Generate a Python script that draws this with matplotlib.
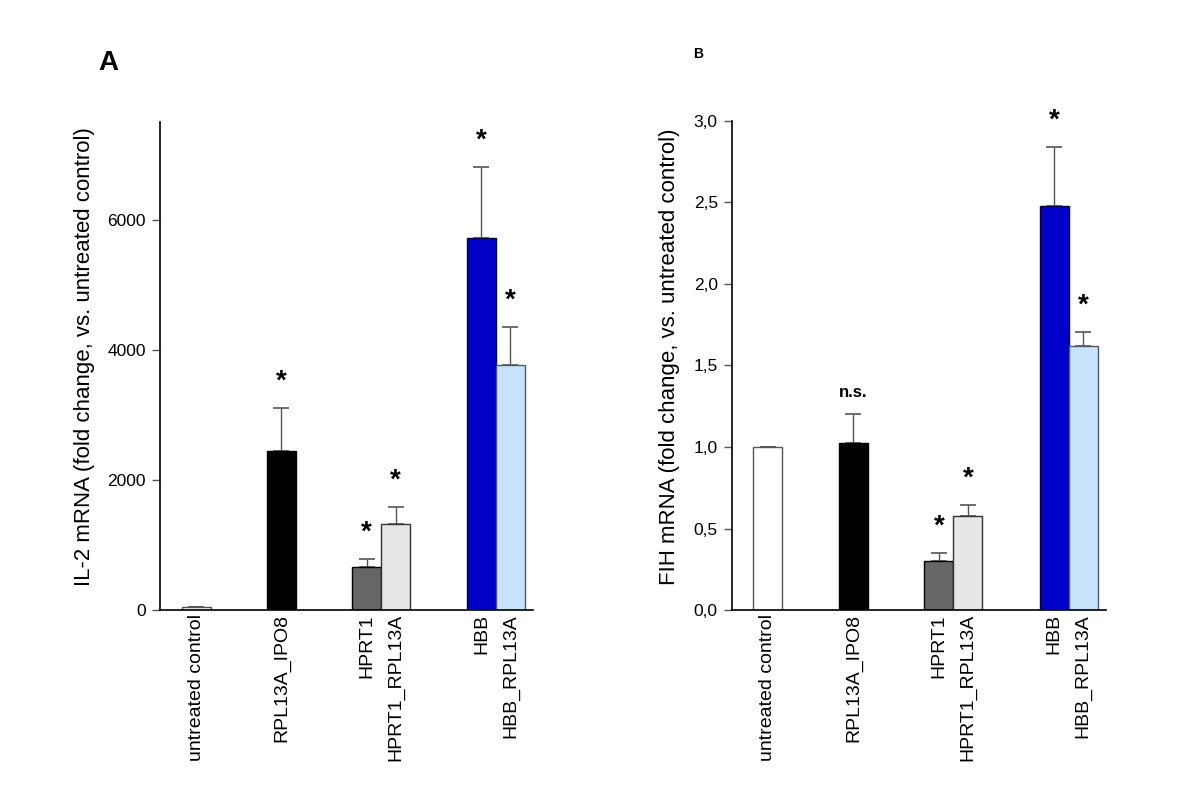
import matplotlib
matplotlib.use("Agg")
import matplotlib.pyplot as plt
import numpy as np
from matplotlib.ticker import FuncFormatter

plt.rcParams['font.family'] = ['Liberation Sans', 'DejaVu Sans']

categories = ['untreated control', 'RPL13A_IPO8', 'HPRT1', 'HPRT1_RPL13A', 'HBB', 'HBB_RPL13A']

# panel A: IL-2 mRNA
il2_values = [45, 2450, 667, 1323, 5715, 3770]
il2_errors = [0, 660, 115, 260, 1090, 575]
il2_marks = ['', '*', '*', '*', '*', '*']

# panel B: FIH mRNA
fih_values = [1.0, 1.025, 0.298, 0.576, 2.476, 1.617]
fih_errors = [0, 0.18, 0.051, 0.071, 0.367, 0.091]
fih_marks = ['', 'n.s.', '*', '*', '*', '*']

bar_colors = ['white', 'black', '#666666', '#e6e6e6', '#0000c8', '#c8e4fa']
edge_colors = ['#555555', 'black', 'black', '#333333', '#000040', '#555566']
xpos = np.array([1.25, 4.2, 7.15, 8.15, 11.12, 12.12])


def draw_panel(ax, values, errors, marks, ylim, yticks, fmt):
    ax.bar(xpos, values, width=1.0, color=bar_colors, edgecolor=edge_colors,
           linewidth=1.0, zorder=2)
    ax.errorbar(xpos, values, yerr=[np.zeros(len(errors)), errors], fmt='none',
                ecolor='#555555', elinewidth=1.0, capsize=6, capthick=1.2, zorder=1)
    for x, v, e, m in zip(xpos, values, errors, marks):
        if not m:
            continue
        if m == '*':
            ax.annotate(m, (x, v + e), xytext=(0, 19), textcoords='offset points',
                        ha='center', va='center', fontsize=20, fontweight='bold')
        else:
            ax.annotate(m, (x, v + e), xytext=(0, 15), textcoords='offset points',
                        ha='center', va='center', fontsize=12, fontweight='bold')
    ax.set_xlim(0, 12.9)
    ax.set_ylim(*ylim)
    ax.set_yticks(yticks)
    ax.yaxis.set_major_formatter(FuncFormatter(fmt))
    ax.set_xticks(xpos)
    ax.set_xticklabels(categories, rotation=90, fontsize=14, va='top')
    ax.tick_params(axis='x', length=0, pad=3)
    ax.tick_params(axis='y', direction='out', length=6, width=1, color='#555555',
                   labelsize=12.5, pad=4)
    ax.spines['top'].set_visible(False)
    ax.spines['right'].set_visible(False)
    ax.spines['left'].set_linewidth(1.2)
    ax.spines['bottom'].set_linewidth(1.2)


fig = plt.figure(figsize=(12, 8.07), dpi=100)

ax1 = fig.add_axes([0.1333, 0.2441, 0.3108, 0.6047])
draw_panel(ax1, il2_values, il2_errors, il2_marks, (0, 7500), [0, 2000, 4000, 6000],
           lambda v, p: '%d' % v)

ax2 = fig.add_axes([0.6097, 0.2441, 0.3117, 0.606])
draw_panel(ax2, fih_values, fih_errors, fih_marks, (0, 3.0), np.arange(0, 3.01, 0.5),
           lambda v, p: ('%.1f' % v).replace('.', ','))

fig.text(85 / 1200, 0.558, 'IL-2 mRNA (fold change, vs. untreated control)',
         rotation=90, ha='center', va='center', fontsize=16)
fig.text(670 / 1200, 0.558, 'FIH mRNA (fold change, vs. untreated control)',
         rotation=90, ha='center', va='center', fontsize=16)

fig.text(108 / 1200, 1 - 63 / 807, 'A', ha='center', va='center', fontsize=20,
         fontweight='bold')
fig.text(698 / 1200, 1 - 54 / 807, 'B', ha='center', va='center', fontsize=10,
         fontweight='bold')

fig.savefig('out.png', dpi=100)
